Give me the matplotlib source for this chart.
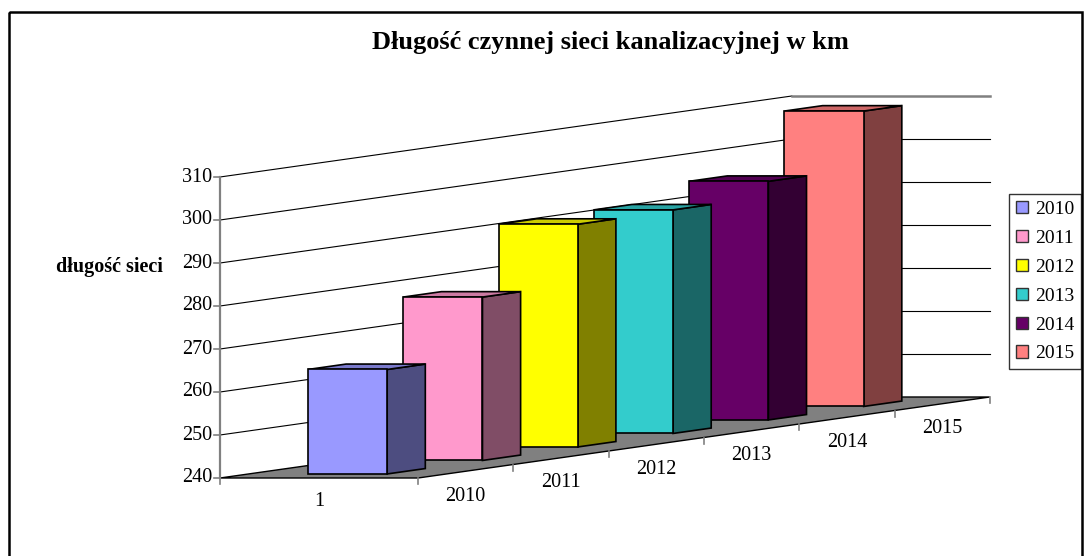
import matplotlib.pyplot as plt
from matplotlib.patches import Polygon, Patch, Rectangle

# data
series = ["2010", "2011", "2012", "2013", "2014", "2015"]
lengths = [264.3, 278.0, 291.8, 292.0, 295.5, 308.7]
category = ["1"]
value_ticks = [240, 250, 260, 270, 280, 290, 300, 310]

front_colors = ["#9999FF", "#FF99CC", "#FFFF00", "#33CCCC", "#660066", "#FF8080"]
side_colors = ["#4D4D80", "#804D66", "#808000", "#1A6666", "#330033", "#804040"]
top_colors = ["#7A7ACC", "#CC7AA3", "#CCCC00", "#29A3A3", "#520052", "#CC6666"]

FONT = "Liberation Serif"
TICK_SIZE = 14.5

# Excel-like oblique projection: (category x, series depth z, value v) -> pixels
ORIGIN = (220, 478)
CAT_PX = 198
DEPTH_PX = (95.3, -13.5)
VAL_PX = 4.3
VMIN = value_ticks[0]
VMAX = value_ticks[-1]


def proj(x, z, v):
    px = ORIGIN[0] + x * CAT_PX + z * DEPTH_PX[0]
    py = ORIGIN[1] + z * DEPTH_PX[1] - (v - VMIN) * VAL_PX
    return px, py


fig = plt.figure(figsize=(10.88, 5.56), dpi=100)
ax = fig.add_axes([0, 0, 1, 1])
ax.set_xlim(0, 1088)
ax.set_ylim(556, 0)
ax.axis("off")

# chart frame
ax.add_patch(Rectangle((9, 12), 1073, 560, fill=False, ec="black", lw=1.8, clip_on=False))

n = len(series)

# gridlines on the side wall and back wall
for v in value_ticks[1:]:
    a, b, c = proj(0, 0, v), proj(0, n, v), proj(1, n, v)
    ax.plot([a[0], b[0]], [a[1], b[1]], color="black", lw=0.8, zorder=1)
    top = v == VMAX
    ax.plot([b[0], c[0]], [b[1], c[1]], color="#808080" if top else "black",
            lw=1.8 if top else 0.8, zorder=1)

# floor
floor = [proj(0, 0, VMIN), proj(1, 0, VMIN), proj(1, n, VMIN), proj(0, n, VMIN)]
ax.add_patch(Polygon(floor, closed=True, fc="#808080", ec="black", lw=1.0, zorder=2))

# value axis
a, b = proj(0, 0, VMIN), proj(0, 0, VMAX)
ax.plot([a[0], b[0]], [a[1], b[1]], color="#808080", lw=1.6, zorder=3)
for v in value_ticks:
    x, y = proj(0, 0, v)
    ax.plot([x - 6, x], [y, y], color="#808080", lw=1.2, zorder=3)
    ax.text(x - 8, y, str(v), ha="right", va="center", fontsize=TICK_SIZE, family=FONT)

ax.text(163, 267, "długość sieci", ha="right", va="center", fontsize=14.5,
        fontweight="bold", family=FONT)

# category axis ticks and label
for xc in (0, 1):
    x, y = proj(xc, 0, VMIN)
    ax.plot([x, x], [y, y + 6], color="#808080", lw=1.2, zorder=3)
x, y = proj(0.5, 0, VMIN)
ax.text(x, y + 24, category[0], ha="center", va="center", fontsize=TICK_SIZE, family=FONT)

# series (depth) axis ticks and labels
for k in range(1, n + 1):
    x, y = proj(1, k, VMIN)
    ax.plot([x, x], [y, y + 6], color="#808080", lw=1.2, zorder=3)
for i, s in enumerate(series):
    x, y = proj(1, i + 0.5, VMIN)
    ax.text(x, y + 25, s, ha="center", va="center", fontsize=TICK_SIZE, family=FONT)

# bars, drawn back to front
x0, x1 = 0.3, 0.7
for i in reversed(range(n)):
    v = lengths[i]
    z0, z1 = i + 0.3, i + 0.7
    front = [proj(x0, z0, VMIN), proj(x1, z0, VMIN), proj(x1, z0, v), proj(x0, z0, v)]
    side = [proj(x1, z0, VMIN), proj(x1, z1, VMIN), proj(x1, z1, v), proj(x1, z0, v)]
    topf = [proj(x0, z0, v), proj(x1, z0, v), proj(x1, z1, v), proj(x0, z1, v)]
    for pts, col in ((side, side_colors[i]), (topf, top_colors[i]), (front, front_colors[i])):
        ax.add_patch(Polygon(pts, closed=True, fc=col, ec="black", lw=1.2,
                             joinstyle="miter", zorder=5))

# title
ax.text(610, 42, "Długość czynnej sieci kanalizacyjnej w km", ha="center", va="center",
        fontsize=19, fontweight="bold", family=FONT)

# legend
handles = [Patch(fc=c, ec="#333333", lw=1.0) for c in front_colors]
leg = fig.legend(handles, series, loc="upper right",
                 bbox_to_anchor=(1081 / 1088, 1 - 194 / 556),
                 prop={"family": FONT, "size": 14}, frameon=True, fancybox=False,
                 borderaxespad=0, handlelength=0.6, handleheight=0.6,
                 handletextpad=0.35, labelspacing=0.61, borderpad=0.36)
leg.get_frame().set_edgecolor("black")
leg.get_frame().set_linewidth(1.0)

fig.savefig("out.png", dpi=100)
